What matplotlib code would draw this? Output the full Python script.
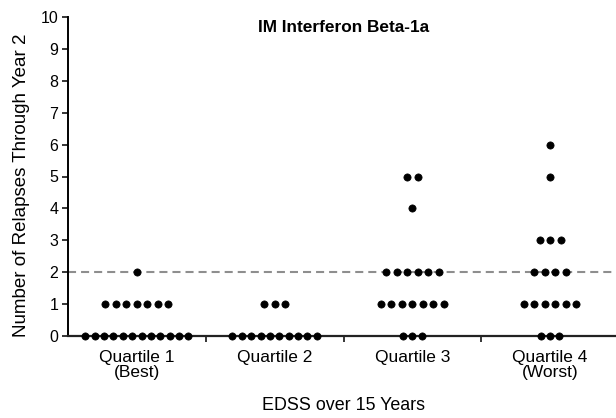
import matplotlib
matplotlib.use("Agg")
import matplotlib.pyplot as plt
import numpy as np

# Number of patients at each relapse count, per EDSS quartile
relapse_levels = [0, 1, 2, 3, 4, 5, 6]
quartile1_counts = [12, 7, 1, 0, 0, 0, 0]
quartile2_counts = [10, 3, 0, 0, 0, 0, 0]
quartile3_counts = [3, 7, 6, 0, 1, 2, 0]
quartile4_counts = [3, 6, 4, 3, 0, 1, 1]

quartile_labels = ["Quartile 1\n(Best)", "Quartile 2", "Quartile 3", "Quartile 4\n(Worst)"]
reference_level = 2

title = "IM Interferon Beta-1a"
x_title = "EDSS over 15 Years"
y_title = "Number of Relapses Through Year 2"

plt.rcParams["font.family"] = ["Liberation Sans", "DejaVu Sans"]
plt.rcParams["lines.scale_dashes"] = False

W, H = 616, 418
fig = plt.figure(figsize=(W / 100, H / 100), dpi=100)
ax = fig.add_axes([68 / W, 82 / H, 551 / W, 319 / H])

ax.set_xlim(-0.5, 3.5)
ax.set_ylim(0, 10)

# reference line
ax.axhline(reference_level, color="#8e8e8e", lw=1.5, dashes=(5.8, 3.6), zorder=1)

all_counts = [quartile1_counts, quartile2_counts, quartile3_counts, quartile4_counts]
for qi, counts in enumerate(all_counts):
    for level, n in zip(relapse_levels, counts):
        if n == 0:
            continue
        step = 0.068 if level == 0 else 0.076
        xs = qi + (np.arange(n) - (n - 1) / 2) * step
        ax.plot(xs, np.full(n, level), "o", color="black", ms=5.2,
                mec="black", mew=0.5, clip_on=False, zorder=3)

# axes styling
for side in ("top", "right"):
    ax.spines[side].set_visible(False)
ax.spines["left"].set_linewidth(1.4)
ax.spines["bottom"].set_linewidth(1.6)
ax.spines["bottom"].set_color("#222222")

ax.set_yticks(range(0, 11))
ax.tick_params(axis="y", direction="out", length=4, width=1.1, pad=3,
               labelsize=11.5, colors="black")

# group boundaries as major ticks, group names as minor labels
ax.set_xticks([0.5, 1.5, 2.5, 3.5])
ax.set_xticklabels([])
ax.tick_params(axis="x", which="major", direction="out", length=4, width=1.1)
ax.set_xticks(range(4), minor=True)
ax.set_xticklabels(quartile_labels, minor=True, fontsize=12.5, linespacing=1.0)
ax.tick_params(axis="x", which="minor", length=0, pad=10)

fig.text((68 + 275.5) / W, 1 - 27 / H, title, ha="center", va="center",
         fontsize=12.4, fontweight="bold")
fig.text((68 + 275.5) / W, 1 - 405 / H, x_title, ha="center", va="center",
         fontsize=12.9)
fig.text(22 / W, 1 - 185 / H, y_title, ha="center", va="center",
         rotation=90, fontsize=13.5)

fig.savefig("out.png", dpi=100)
